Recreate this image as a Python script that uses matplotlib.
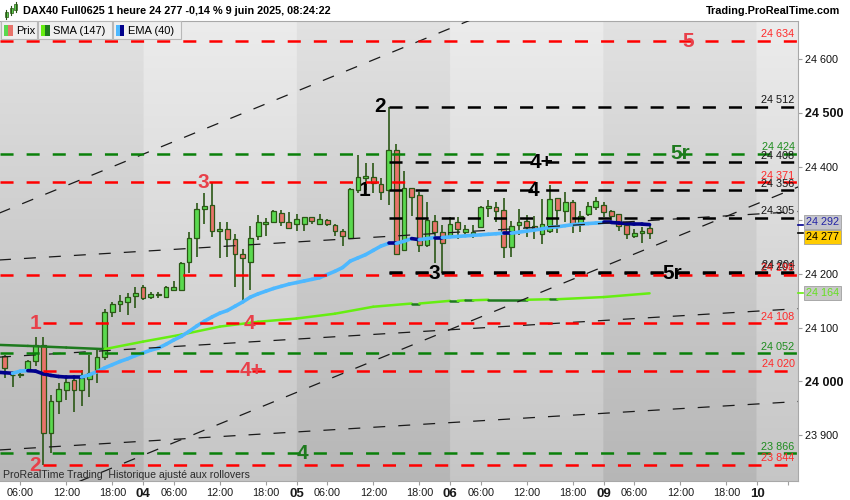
import numpy as np
import matplotlib
matplotlib.use('Agg')
import matplotlib.pyplot as plt
from matplotlib.collections import LineCollection
from matplotlib.patches import Rectangle
from matplotlib.lines import Line2D

plt.rcParams['font.family'] = ['Liberation Sans', 'DejaVu Sans']
plt.rcParams['lines.scale_dashes'] = False

# hourly bars, bar 0 = 3 June 02:00, 20 bars per trading day
day_names = ['03', '04', '05', '06', '09', '10']
bar = list(range(2, 87))
opens = [24047, 24011, 24011, 24020, 24037, 24068, 23904, 23964, 23984, 24002,
         23983, 24004, 24020, 24045, 24130, 24144, 24147, 24159, 24176, 24158,
         24160, 24158, 24171, 24170, 24222, 24268, 24321, 24329, 24281, 24283,
         24265, 24237, 24222, 24270, 24294, 24297, 24313, 24296, 24293, 24293,
         24306, 24294, 24301, 24291, 24281, 24268, 24356, 24378, 24381, 24367,
         24356, 24431, 24245, 24361, 24347, 24254, 24299, 24279, 24273, 24296,
         24279, 24273, 24288, 24323, 24325, 24320, 24251, 24291, 24298, 24289,
         24275, 24281, 24341, 24318, 24334, 24294, 24312, 24325, 24328, 24318,
         24312, 24291, 24271, 24276, 24285]
highs = [24049, 24020, 24018, 24040, 24082, 24082, 23975, 23996, 24009, 24009,
         24022, 24049, 24058, 24135, 24148, 24161, 24164, 24175, 24180, 24166,
         24166, 24178, 24187, 24223, 24279, 24332, 24351, 24371, 24297, 24297,
         24275, 24246, 24289, 24310, 24304, 24320, 24320, 24316, 24312, 24307,
         24306, 24312, 24303, 24294, 24284, 24361, 24422, 24406, 24406, 24378,
         24511, 24443, 24391, 24361, 24353, 24335, 24310, 24291, 24306, 24306,
         24291, 24292, 24326, 24338, 24335, 24341, 24299, 24322, 24310, 24308,
         24339, 24365, 24341, 24353, 24337, 24317, 24335, 24344, 24334, 24320,
         24312, 24297, 24283, 24287, 24294]
lows = [24006, 23990, 24006, 24017, 24029, 23844, 23866, 23940, 23965, 23942,
        23954, 23970, 23996, 24040, 24120, 24130, 24124, 24136, 24152, 24154,
        24155, 24158, 24170, 24169, 24202, 24231, 24294, 24269, 24229, 24231,
        24175, 24147, 24170, 24263, 24270, 24296, 24290, 24283, 24281, 24281,
        24294, 24292, 24290, 24271, 24252, 24266, 24350, 24356, 24351, 24337,
        24328, 24235, 24243, 24308, 24241, 24251, 24221, 24201, 24269, 24265,
        24269, 24268, 24287, 24307, 24296, 24229, 24231, 24273, 24269, 24266,
        24256, 24277, 24277, 24297, 24277, 24279, 24308, 24319, 24307, 24301,
        24281, 24266, 24268, 24257, 24266]
closes = [24024, 24012, 24013, 24037, 24068, 23904, 23963, 23985, 23998, 23984,
          24006, 24016, 24045, 24130, 24144, 24150, 24158, 24165, 24155, 24163,
          24162, 24175, 24176, 24220, 24268, 24322, 24327, 24281, 24283, 24266,
          24237, 24229, 24268, 24296, 24297, 24317, 24297, 24285, 24302, 24306,
          24299, 24302, 24294, 24281, 24271, 24358, 24380, 24383, 24370, 24353,
          24431, 24237, 24361, 24343, 24254, 24301, 24279, 24258, 24294, 24283,
          24283, 24279, 24325, 24327, 24318, 24251, 24289, 24297, 24287, 24285,
          24293, 24339, 24319, 24334, 24294, 24308, 24327, 24336, 24316, 24308,
          24289, 24274, 24276, 24281, 24277]

# EMA (40), one value per bar from bar 1
ema_bar = list(range(1, 87))
ema = [24017, 24016, 24015, 24019, 24020, 24019, 24014, 24011, 24009, 24008,
       24008, 24008, 24012, 24018, 24025, 24031, 24037, 24042, 24048, 24053,
       24058, 24062, 24069, 24077, 24084, 24093, 24103, 24112, 24120, 24127,
       24132, 24140, 24148, 24157, 24163, 24168, 24173, 24177, 24181, 24184,
       24187, 24190, 24193, 24199, 24205, 24212, 24224, 24230, 24236, 24244,
       24252, 24257, 24257, 24261, 24266, 24264, 24266, 24268, 24268, 24269,
       24270, 24271, 24272, 24273, 24274, 24275, 24276, 24276, 24278, 24280,
       24282, 24284, 24287, 24288, 24290, 24292, 24293, 24294, 24295, 24296,
       24296, 24295, 24294, 24293, 24293, 24292]

# SMA (147), read at a few bars
sma_bar = [1, 5, 10, 15, 20, 25, 30, 35, 40, 45, 50, 55, 56, 60, 61, 62, 63, 65, 70, 73, 74, 80, 86]
sma = [24068, 24066, 24063, 24060, 24074, 24087, 24102, 24111, 24117, 24126, 24139, 24145,
       24145, 24150, 24150, 24151, 24151, 24152, 24152, 24153, 24153, 24157, 24164]

# horizontal levels: price, kind, first bar (None = whole width)
level_price = [24634, 24512, 24424, 24408, 24371, 24356, 24305, 24204, 24201, 24198,
               24108, 24052, 24020, 23866, 23844]
level_kind = ['r', 'k', 'g', 'k', 'r', 'k', 'k', 'k', 'k', 'r', 'r', 'g', 'r', 'g', 'r']
level_from = [None, 52, None, 52, None, 52, 52, 52, 52, None, 7, None, 7, None, 7]

# wave labels on the chart
mark_text = ['5', '2', '5r', '4+', '3', '4', '1', '3', '5r', '1', '4', '4+', '4', '2']
mark_price = [24634, 24512, 24424, 24408, 24371, 24356, 24356, 24201, 24201, 24108, 24108,
              24020, 23866, 23844]
mark_bar = [91.0, 50.9, 90.0, 71.9, 27.8, 70.9, 48.9, 58.0, 88.9, 6.0, 33.9, 34.1, 40.8, 6.0]
mark_kind = ['r', 'k', 'g', 'k', 'r', 'k', 'k', 'k', 'k', 'r', 'r', 'r', 'g', 'r']

# trend channel lines, from bar 0 to bar 106
trend_bars = [0, 106]
trend_from = [24306, 23745, 24225, 24044, 23871]
trend_to = [24927, 24366, 24317, 24136, 23963]

last_price = 24277
ema_last = 24292
sma_last = 24164

W, H = 850, 500
fig = plt.figure(figsize=(W / 100, H / 100), dpi=100)
ax = fig.add_axes([0, 19 / H, 798 / W, 460 / H])

x_lo, x_hi = 1.368, 105.34
y_lo, y_hi = 23814.3, 24671.4

# background: alternating day bands with a vertical gradient
cols = np.linspace(x_lo, x_hi, 1000)
day_idx = np.floor(cols / 20).astype(int)
light = day_idx % 2 == 1
t = np.linspace(0, 1, 300)[:, None]
top = np.where(light, 0.925, 0.885)[None, :]
bot = np.where(light, 0.775, 0.715)[None, :]
shade = top + (bot - top) * t
ax.imshow(np.dstack([shade] * 3), extent=[x_lo, x_hi, y_lo, y_hi], aspect='auto',
          origin='upper', zorder=0, interpolation='bilinear')

# candles
o = np.array(opens)
c = np.array(closes)
up = c >= o
ax.vlines(bar, lows, highs, color='#2b5716', lw=1.2, zorder=2)
ax.bar(bar, np.maximum(np.abs(c - o), 1.5), bottom=np.minimum(o, c), width=0.62,
       color=np.where(up, '#5ad94f', '#e8736a'), edgecolor='#2b5716', linewidth=0.9, zorder=3)


def ma_line(xs, ys, col_up, col_dn, lw):
    segs = [[(xs[i - 1], ys[i - 1]), (xs[i], ys[i])] for i in range(1, len(xs))]
    cols_ = [col_up if ys[i] > ys[i - 1] else col_dn for i in range(1, len(xs))]
    lc = LineCollection(segs, colors=cols_, linewidths=lw, capstyle='round', zorder=4)
    ax.add_collection(lc)


ma_line(sma_bar, sma, '#66ee11', '#1e7a1e', 1.8)
ma_line(ema_bar, ema, '#4db8ff', '#00008b', 2.6)

line_col = {'r': '#ff0000', 'g': '#0a800a', 'k': '#000000'}
lab_col = {'r': '#ff2a2a', 'g': '#1e8c1e', 'k': '#151515'}
mark_col = {'r': '#e8404a', 'g': '#1e7a1e', 'k': '#000000'}

for a, b in zip(trend_from, trend_to):
    ax.plot(trend_bars, [a, b], color='#1a1a1a', lw=0.9, ls=(0, (8.6, 9.4)), zorder=5)

for p, k, start in zip(level_price, level_kind, level_from):
    x0 = x_lo if start is None else start
    ax.plot([x0, x_hi], [p, p], color=line_col[k], lw=1.8, ls=(0, (9.4, 9.4)),
            solid_capstyle='butt', zorder=5)
    ax.annotate(f'{p:,}'.replace(',', ' '), xy=(x_hi, p), xytext=(-2.5, 1.2),
                textcoords='offset points', ha='right', va='bottom', fontsize=7.8,
                color=lab_col[k], zorder=6)

for txt, p, b, k in zip(mark_text, mark_price, mark_bar, mark_kind):
    behind = (txt == '1' and k == 'k')
    ax.text(b, p, txt, ha='center', va='center', fontsize=15, fontweight='bold',
            color=mark_col[k], zorder=2.5 if behind else 6)

ax.set_xlim(x_lo, x_hi)
ax.set_ylim(y_lo, y_hi)

# time axis
xt, xl = [], []
for d, name in enumerate(day_names):
    for off, lab in [(0, name), (4, '06:00'), (10, '12:00'), (16, '18:00')]:
        pos = 20 * d + off
        if x_lo <= pos <= x_hi:
            xt.append(pos)
            xl.append(lab if pos < 100 or off == 0 else '')
ax.set_xticks(xt)
ax.set_xticklabels(xl)
for lab in ax.get_xticklabels():
    if lab.get_text() in day_names:
        lab.set_fontweight('bold')
        lab.set_fontsize(9.5)
    else:
        lab.set_fontsize(7.8)
ax.tick_params(axis='x', length=3, color='#a0a0a0', pad=2, labelcolor='#1a1a1a')

# price axis
ax.yaxis.tick_right()
yt = list(range(23900, 24601, 100))
ax.set_yticks(yt)
ax.set_yticklabels([f'{v:,}'.replace(',', ' ') for v in yt])
for lab, v in zip(ax.get_yticklabels(), yt):
    if v % 500 == 0:
        lab.set_fontweight('bold')
        lab.set_fontsize(9)
    else:
        lab.set_fontsize(7.8)
ax.tick_params(axis='y', length=3, color='#a0a0a0', pad=2, labelcolor='#111111')

ax.spines['left'].set_visible(False)
for s in ['right', 'bottom', 'top']:
    ax.spines[s].set_color('#a8a8a8')
    ax.spines[s].set_linewidth(0.8)

# value boxes on the price axis
boxes = [('24 292', ema_last, 3, '#c4c4cc', '#2323a5', '#00008b'),
         ('24 277', last_price, -4, '#ffcc00', '#000000', '#000000'),
         ('24 164', sma_last, 0, '#c8c8c8', '#66e022', '#66ee11')]
ytr = ax.get_yaxis_transform()
for txt, p, dy, fc, tc, tk in boxes:
    ax.annotate(txt, xy=(1, p), xycoords=ytr, xytext=(5.5, dy * 0.72), textcoords='offset points',
                ha='left', va='center', fontsize=7.8, color=tc, annotation_clip=False,
                bbox=dict(boxstyle='square,pad=0.18', fc=fc, ec='#a0a0a0', lw=0.6))
    ax.plot([1, 1 + 5 / 798], [p, p], transform=ytr, color=tk, lw=1.2, clip_on=False, zorder=7)

# header row
fig.text(23 / W, 1 - 11 / H, 'DAX40 Full0625 1 heure 24 277 -0,14 % 9 juin 2025, 08:24:22',
         fontsize=7.8, fontweight='bold', va='center', ha='left')
fig.text(840 / W, 1 - 11 / H, 'Trading.ProRealTime.com', fontsize=7.8, fontweight='bold',
         va='center', ha='right')
for cx, y0, y1 in [(6, 12, 17), (11, 8, 13), (15.5, 4, 10)]:
    fig.add_artist(Line2D([cx / W] * 2, [1 - (y1 + 2) / H, 1 - (y0 - 2) / H],
                          transform=fig.transFigure, color='#2b5716', lw=0.8))
    fig.add_artist(Rectangle(((cx - 1.5) / W, 1 - y1 / H), 3 / W, (y1 - y0) / H,
                             transform=fig.transFigure, fc='#5ad94f', ec='#2b5716', lw=0.5))

# indicator tabs
tabs = [('Prix', 1, 37, '#5ad94f', '#e8736a'),
        ('SMA (147)', 38, 112, '#66ee11', '#1e7a1e'),
        ('EMA (40)', 113, 181, '#4db8ff', '#00008b')]
for name, x0, x1, c1, c2 in tabs:
    fig.add_artist(Rectangle((x0 / W, 1 - 39 / H), (x1 - x0) / W, 17.5 / H, transform=fig.transFigure,
                             fc='#efefef', ec='#b8b8b8', lw=0.8, zorder=10))
    fig.add_artist(Rectangle(((x0 + 2.5) / W, 1 - 36 / H), 4.5 / W, 11 / H, transform=fig.transFigure,
                             fc=c1, ec='none', zorder=11))
    fig.add_artist(Rectangle(((x0 + 7) / W, 1 - 36 / H), 4.5 / W, 11 / H, transform=fig.transFigure,
                             fc=c2, ec='none', zorder=11))
    fig.text((x0 + 15) / W, 1 - 30.5 / H, name, fontsize=8, va='center', ha='left', zorder=12)

fig.text(3 / W, 1 - 475 / H, 'ProRealTime Trading  Historique ajusté aux rollovers',
         fontsize=7.6, color='#2a2a2a', va='center', ha='left', zorder=12)

fig.savefig('out.png', dpi=100, facecolor='white')
